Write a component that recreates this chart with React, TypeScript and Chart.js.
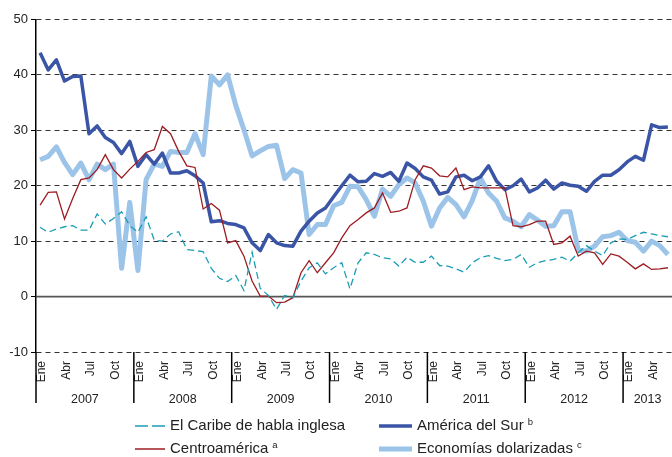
import { useEffect, useRef } from 'react';
import { Chart, registerables } from 'chart.js';

Chart.register(...registerables);

const YEARS = ['2007', '2008', '2009', '2010', '2011', '2012', '2013'];
const MONTH_NAMES = ['Ene', 'Feb', 'Mar', 'Abr', 'May', 'Jun', 'Jul', 'Ago', 'Sep', 'Oct', 'Nov', 'Dic'];
const TICK_MONTHS = ['Ene', 'Abr', 'Jul', 'Oct'];
const N_MONTHS = 78;

const CATEGORIES: string[] = [];
for (let i = 0; i < N_MONTHS; i++) {
  CATEGORIES.push(MONTH_NAMES[i % 12] + ' ' + YEARS[Math.floor(i / 12)]);
}

const CARIBE = [
  12.5, 11.6, 12.2, 12.6, 12.8, 12.0, 12.0, 14.9, 13.1, 14.1, 15.3, 12.8,
  11.6, 14.4, 10.2, 10.0, 11.3, 11.7, 8.5, 8.3, 8.1, 5.1, 3.3, 2.7,
  3.8, 1.1, 8.0, 1.5, 0.2, -2.3, 0.2, -0.2, 2.8, 5.2, 6.1, 4.1,
  5.2, 6.1, 1.4, 6.1, 7.9, 7.6, 7.0, 6.8, 5.5, 7.1, 6.2, 6.2,
  7.3, 5.6, 5.5, 5.0, 4.4, 6.1, 7.0, 7.4, 6.9, 6.5, 6.7, 7.6,
  5.3, 6.1, 6.5, 6.7, 7.1, 6.4, 7.9, 9.2, 8.2, 7.4, 9.7, 10.4,
  10.3, 11.0, 11.6, 11.3, 11.0, 10.8,
];

const CENTROAMERICA = [
  16.5, 18.8, 18.9, 14.0, 17.7, 21.1, 21.4, 22.9, 25.6, 22.9, 21.4, 23.0,
  24.4, 26.0, 26.5, 30.7, 29.4, 26.2, 23.6, 23.3, 15.8, 16.8, 15.6, 9.7,
  10.1, 7.3, 2.8, 0.1, 0.1, -1.1, -1.0, -0.2, 4.3, 6.5, 4.3, 6.1,
  7.9, 10.6, 12.8, 13.9, 15.1, 16.0, 18.7, 15.2, 15.4, 16.0, 21.1, 23.6,
  23.2, 21.8, 21.6, 23.2, 19.3, 19.8, 19.6, 19.6, 19.6, 19.6, 12.8, 12.6,
  13.0, 13.6, 13.6, 9.4, 9.7, 10.9, 7.3, 8.2, 7.9, 5.8, 7.7, 7.3,
  6.2, 5.0, 5.9, 4.9, 5.0, 5.2,
];

const AMERICA_SUR = [
  44.0, 40.9, 42.7, 38.9, 39.7, 39.8, 29.4, 30.8, 28.7, 27.8, 25.8, 28.0,
  23.5, 25.6, 23.9, 25.9, 22.3, 22.3, 22.7, 21.8, 20.5, 13.5, 13.7, 13.2,
  13.0, 12.4, 9.7, 8.3, 11.2, 9.7, 9.2, 9.1, 11.8, 13.6, 15.1, 16.0,
  18.0, 20.0, 21.9, 20.7, 20.8, 22.2, 21.7, 22.4, 20.8, 24.1, 23.1, 21.6,
  21.0, 18.5, 18.9, 21.6, 21.9, 20.9, 21.6, 23.6, 20.8, 19.3, 20.0, 21.2,
  18.9, 19.6, 21.0, 19.4, 20.5, 20.1, 19.9, 19.0, 20.8, 21.9, 21.9, 22.9,
  24.3, 25.3, 24.6, 31.0, 30.5, 30.6,
];

const DOLARIZADAS = [
  24.7, 25.3, 27.0, 24.2, 22.0, 24.1, 21.1, 23.9, 22.9, 23.9, 5.1, 17.0,
  4.7, 21.1, 23.9, 23.5, 26.2, 26.0, 26.0, 29.4, 25.6, 39.8, 38.2, 40.0,
  34.5, 30.1, 25.4, 26.3, 27.1, 27.3, 21.3, 22.9, 22.3, 11.2, 13.0, 13.0,
  16.4, 17.0, 19.9, 19.8, 17.5, 14.5, 19.4, 18.1, 20.2, 21.4, 20.5, 17.2,
  12.7, 16.0, 17.9, 16.6, 14.4, 17.3, 21.4, 18.7, 17.2, 14.2, 13.6, 12.6,
  14.8, 13.8, 12.7, 12.8, 15.3, 15.3, 8.4, 8.2, 9.1, 10.8, 11.0, 11.6,
  10.1, 9.8, 8.2, 10.0, 9.2, 7.6,
];

const COLOR_CARIBE = '#1b9db4';
const COLOR_CENTRO = '#9c1c22';
const COLOR_SUR = '#3a55a6';
const COLOR_DOLAR = '#9cc4e9';
const FONT = '"Liberation Sans", Arial, Helvetica, sans-serif';

const LEGEND_ITEMS = [
  { label: 'El Caribe de habla inglesa', sup: '', color: COLOR_CARIBE, width: 1.5, dash: [13, 4], x: 135, y: 426, len: 30 },
  { label: 'América del Sur', sup: 'b', color: COLOR_SUR, width: 3.5, dash: [], x: 379, y: 426, len: 33 },
  { label: 'Centroamérica', sup: 'a', color: COLOR_CENTRO, width: 1.5, dash: [], x: 135, y: 449, len: 30 },
  { label: 'Economías dolarizadas', sup: 'c', color: COLOR_DOLAR, width: 5, dash: [], x: 379, y: 449, len: 33 },
];

const decorPlugin = {
  id: 'decor',
  beforeDatasetsDraw(chart: any) {
    const { ctx, chartArea, scales } = chart;
    const y0 = scales.y.getPixelForValue(0);
    ctx.save();
    ctx.strokeStyle = '#555';
    ctx.lineWidth = 1.6;
    ctx.beginPath();
    ctx.moveTo(chartArea.left, y0);
    ctx.lineTo(chartArea.right, y0);
    ctx.stroke();
    ctx.restore();
  },
  afterDraw(chart: any) {
    const { ctx, chartArea, scales } = chart;
    const x = scales.x;
    const step = x.getPixelForTick(1) - x.getPixelForTick(0);
    const bottom = chartArea.bottom;
    ctx.save();
    for (let k = 0; k < YEARS.length; k++) {
      const idx = k * 12;
      if (idx >= N_MONTHS) break;
      const xs = x.getPixelForTick(idx) - step / 2;
      ctx.strokeStyle = '#000';
      ctx.lineWidth = 1.5;
      ctx.setLineDash([]);
      ctx.beginPath();
      ctx.moveTo(xs, bottom);
      ctx.lineTo(xs, bottom + 51);
      ctx.stroke();
      const xe = Math.min(xs + 12 * step, chartArea.right);
      ctx.fillStyle = '#222';
      ctx.font = '12.5px ' + FONT;
      ctx.textAlign = 'center';
      ctx.textBaseline = 'middle';
      ctx.fillText(YEARS[k], (xs + xe) / 2, bottom + 48);
    }
    for (const it of LEGEND_ITEMS) {
      ctx.strokeStyle = it.color;
      ctx.lineWidth = it.width;
      ctx.setLineDash(it.dash);
      ctx.lineCap = 'butt';
      ctx.beginPath();
      ctx.moveTo(it.x, it.y);
      ctx.lineTo(it.x + it.len, it.y);
      ctx.stroke();
      ctx.setLineDash([]);
      ctx.fillStyle = '#222';
      ctx.font = '15px ' + FONT;
      ctx.textAlign = 'left';
      ctx.textBaseline = 'middle';
      const tx = it.x + it.len + 5;
      ctx.fillText(it.label, tx, it.y);
      if (it.sup) {
        const w = ctx.measureText(it.label).width;
        ctx.font = '9.5px ' + FONT;
        ctx.fillText(it.sup, tx + w + 4, it.y - 4);
      }
    }
    ctx.restore();
  },
};

export default function App() {
  const canvasRef = useRef<HTMLCanvasElement | null>(null);

  useEffect(() => {
    document.body.style.margin = '0';
    const canvas = canvasRef.current;
    if (!canvas) return;
    Chart.defaults.font.family = FONT;
    const chart = new Chart(canvas, {
      type: 'line',
      data: {
        labels: CATEGORIES,
        datasets: [
          {
            label: 'El Caribe de habla inglesa',
            data: CARIBE,
            borderColor: COLOR_CARIBE,
            borderWidth: 1.3,
            borderDash: [7, 4],
            pointRadius: 0,
            tension: 0,
            fill: false,
            order: 1,
          },
          {
            label: 'Centroamérica',
            data: CENTROAMERICA,
            borderColor: COLOR_CENTRO,
            borderWidth: 1.3,
            pointRadius: 0,
            tension: 0,
            fill: false,
            order: 2,
          },
          {
            label: 'América del Sur',
            data: AMERICA_SUR,
            borderColor: COLOR_SUR,
            borderWidth: 3.5,
            borderJoinStyle: 'round',
            pointRadius: 0,
            tension: 0,
            fill: false,
            order: 3,
          },
          {
            label: 'Economías dolarizadas',
            data: DOLARIZADAS,
            borderColor: COLOR_DOLAR,
            borderWidth: 5,
            borderJoinStyle: 'round',
            pointRadius: 0,
            tension: 0,
            fill: false,
            order: 4,
          },
        ],
      },
      options: {
        responsive: false,
        animation: false,
        devicePixelRatio: 1,
        layout: { padding: { top: 19.5, right: 0, bottom: 0, left: 0 } },
        plugins: {
          legend: { display: false },
          tooltip: { enabled: false },
        },
        scales: {
          x: {
            type: 'category',
            offset: true,
            grid: { display: false },
            border: { display: false },
            ticks: {
              autoSkip: false,
              maxRotation: 90,
              minRotation: 90,
              padding: 1,
              labelOffset: 2,
              color: '#222',
              font: { size: 12 },
              callback: (_v: any, i: number) => (i % 3 === 0 ? TICK_MONTHS[(i % 12) / 3] : ''),
            },
            afterFit: (s: any) => {
              s.height = 105;
              s.paddingLeft = 0;
              s.paddingRight = 0;
            },
          },
          y: {
            min: -10,
            max: 50,
            ticks: { stepSize: 10, color: '#222', font: { size: 13 }, padding: 3 },
            grid: {
              color: (c: any) => (c.tick && c.tick.value === 0 ? 'rgba(0,0,0,0)' : '#333'),
              lineWidth: 1,
              drawTicks: true,
              tickLength: 5,
              tickColor: '#000',
              tickWidth: 1,
            },
            border: { display: true, color: '#000', width: 1.5, dash: [5, 4] },
            afterFit: (s: any) => {
              s.width = 36;
            },
          },
        },
      } as any,
      plugins: [decorPlugin],
    });
    return () => chart.destroy();
  }, []);

  return (
    <div style={{ width: 672, height: 457 }}>
      <canvas ref={canvasRef} width={672} height={457} style={{ display: 'block' }} />
    </div>
  );
}
